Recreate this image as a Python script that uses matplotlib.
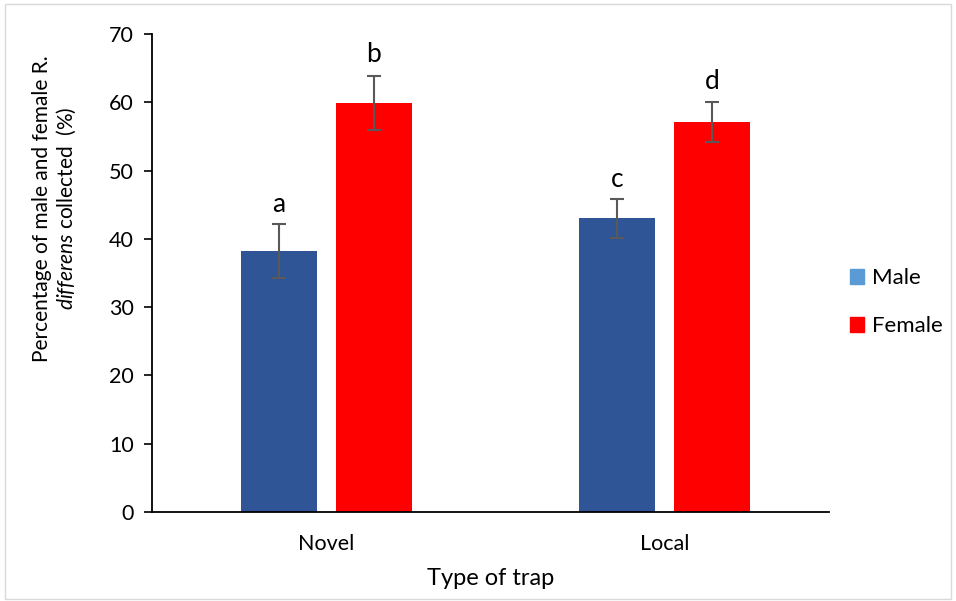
import matplotlib
matplotlib.use('Agg')
import matplotlib.pyplot as plt
import matplotlib.patches as mpatches
import numpy as np

plt.rcParams['font.family'] = ['Lato', 'DejaVu Sans']
plt.rcParams['mathtext.fontset'] = 'custom'
plt.rcParams['mathtext.rm'] = 'Lato'
plt.rcParams['mathtext.it'] = 'Lato:italic'

# Data
traps = ['Novel', 'Local']
male = [38.2, 43.0]
female = [59.9, 57.1]
male_err = [4.0, 2.8]
female_err = [4.0, 2.9]
male_letters = ['a', 'c']
female_letters = ['b', 'd']

bar_color_male = '#2F5597'
legend_color_male = '#5B9BD5'
color_female = '#FF0000'

index = np.arange(len(traps))
bar_width = 0.225
offset = 0.14

fig = plt.figure(figsize=(9.56, 6.01), dpi=100)
ax = fig.add_axes([0.159, 0.148, 0.708, 0.7954])

err_kw = dict(ecolor='#595959', elinewidth=1.5, capsize=5, capthick=1.5)
ax.bar(index - offset, male, bar_width, yerr=male_err, color=bar_color_male,
       error_kw=err_kw, zorder=2)
ax.bar(index + offset, female, bar_width, yerr=female_err, color=color_female,
       error_kw=err_kw, zorder=2)

# significance letters
for i in range(len(traps)):
    ax.annotate(male_letters[i], (index[i] - offset, male[i] + male_err[i]),
                xytext=(0, 5), textcoords='offset points', ha='center',
                va='bottom', fontsize=19)
    ax.annotate(female_letters[i], (index[i] + offset, female[i] + female_err[i]),
                xytext=(0, 6), textcoords='offset points', ha='center',
                va='bottom', fontsize=19)

ax.set_xlim(-0.515, 1.485)
ax.set_ylim(0, 70)
ax.set_yticks(np.arange(0, 71, 10))
ax.set_xticks(index)
ax.set_xticklabels(traps)
ax.tick_params(axis='y', labelsize=15.5, length=6, width=1.2, pad=7)
ax.tick_params(axis='x', labelsize=15.5, length=0, pad=16)
ax.spines['top'].set_visible(False)
ax.spines['right'].set_visible(False)
ax.spines['left'].set_linewidth(1.3)
ax.spines['bottom'].set_linewidth(1.3)

ax.set_xlabel('Type of trap', fontsize=17, labelpad=10)
ax.set_ylabel('Percentage of male and female R.\n$\\mathit{differens}$ collected  (%)',
              fontsize=15, multialignment='center', linespacing=1.1)
ax.yaxis.set_label_coords(-0.11, 0.635)

handles = [mpatches.Patch(color=legend_color_male, label='Male'),
           mpatches.Patch(color=color_female, label='Female')]
fig.legend(handles=handles, loc='center left', bbox_to_anchor=(0.868, 0.497),
           frameon=False, fontsize=16, handlelength=0.65, handleheight=0.65,
           handletextpad=0.35, labelspacing=1.25)

# light frame around the figure
fig.patches.append(mpatches.Rectangle((0.005, 0.003), 0.99, 0.99, transform=fig.transFigure,
                                      fill=False, edgecolor='#D9D9D9', linewidth=1))

fig.savefig('out.png', dpi=100)
